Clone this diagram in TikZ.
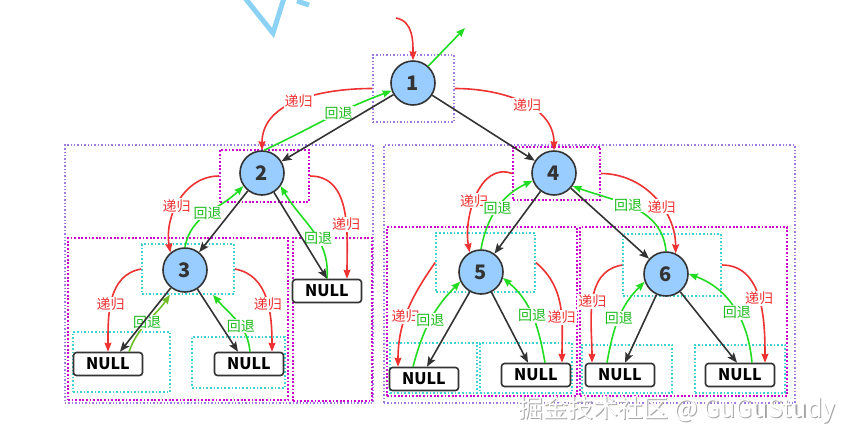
\documentclass[tikz,border=0pt]{standalone}
\usepackage{fontspec}
\setmainfont{Noto Sans CJK SC}
\usetikzlibrary{arrows.meta}

\definecolor{nodeblue}{RGB}{153,204,255}
\definecolor{linegray}{RGB}{51,51,51}
\definecolor{recred}{RGB}{238,50,50}
\definecolor{backgreen}{RGB}{34,220,34}
\definecolor{olivegreen}{RGB}{110,190,40}
\definecolor{boxpurple}{RGB}{160,120,225}
\definecolor{boxmagenta}{RGB}{204,0,204}
\definecolor{boxcyan}{RGB}{60,210,210}
\definecolor{markblue}{RGB}{140,210,245}

\tikzstyle{vertex}=[circle,draw=linegray,fill=nodeblue,line width=1.6pt,minimum size=44pt,inner sep=0pt,text=linegray,font=\bfseries\fontsize{20}{20}\selectfont]
\tikzstyle{nullbox}=[rectangle,rounded corners=3pt,draw=linegray,fill=white,line width=1.6pt,minimum width=69pt,minimum height=23pt,inner sep=0pt,font=\bfseries\fontsize{16}{16}\selectfont]
\tikzstyle{pbox}=[rectangle,draw=boxpurple,line width=1.4pt,dash pattern=on 1.4pt off 2pt,inner sep=0pt]
\tikzstyle{mbox}=[rectangle,draw=boxmagenta,line width=1.8pt,dash pattern=on 1.8pt off 1.8pt,inner sep=0pt]
\tikzstyle{cbox}=[rectangle,draw=boxcyan,line width=1.6pt,dash pattern=on 1.6pt off 2pt,inner sep=0pt]
\tikzstyle{arrowdecorate}=[draw=linegray,line width=1.6pt,-{Stealth[length=10pt,width=8pt,inset=2pt]}]
\tikzstyle{recurse}=[draw=recred,line width=1.6pt,-{Stealth[length=9pt,width=7pt,inset=1pt]}]
\tikzstyle{backtrack}=[draw=backgreen,line width=1.6pt,-{Stealth[length=9pt,width=7pt,inset=1pt]}]
\tikzstyle{redlabel}=[fill=white,inner sep=1pt,text=recred,font=\fontsize{14}{14}\selectfont]
\tikzstyle{greenlabel}=[fill=white,inner sep=1pt,text=backgreen!85!black,font=\fontsize{14}{14}\selectfont]

\begin{document}
\begin{tikzpicture}[x=1pt,y=1pt]
    \useasboundingbox (0,0) rectangle (855,-440);

    % watermark stroke at the top
    \draw[markblue,line width=5pt,line join=miter] (245,2) -- (273,-33) -- (284,2);
    \draw[markblue,line width=5pt] (297,-1) -- (309,-5);

    %dotted frames
    \foreach \boxname/\x/\y/\w/\h/\kind in {
      b1/413.5/88.5/81/67/pbox, bl/219/274/308/258/pbox, br/589.5/274/411/258/pbox,
      b2/264.5/176/89/52/mbox, b4/556.5/173.5/87/53/mbox,
      s3/178/319/220/162/mbox, sn2/332.5/319.5/79/163/mbox,
      s5/482/311.5/190/169/mbox, s6/683.5/311.5/207/169/mbox,
      c3/188/269/92/50/cbox, c3l/121.5/362/97/60/cbox, c3r/238.5/362.5/93/51/cbox,
      c5/485.5/262.5/99/59/cbox, c6/672/265/98/62/cbox,
      c5l/433.5/368/87/50/cbox, c5r/526/368/92/50/cbox,
      c6l/627/369/90/48/cbox, c6r/740/369/90/48/cbox}
    {
      \node[\kind, minimum width=\w pt, minimum height=\h pt] (\boxname) at (\x,-\y) {};
    }

    \foreach \nodename/\value/\x/\y in {
      n1/1/413/83, n2/2/262/173, n4/4/554/173,
      n3/3/185/270, n5/5/481/272, n6/6/666/274}
    {
      \node[vertex] (\nodename) at (\x,-\y) {\value};
    }

    \foreach \nodename/\x/\y in {
      nul2/327/291, nul3l/108/364, nul3r/249/364,
      nul5l/424/379, nul5r/536/375, nul6l/620/375, nul6r/740/375}
    {
      \node[nullbox] (\nodename) at (\x,-\y) {NULL};
    }

    \coordinate (in1) at (396,-18);
    \coordinate (out1) at (465,-28);
    \draw[recurse] (in1) to[out=-10,in=90] (n1.north);
    \draw[backtrack] (n1.48) -- (out1);

    %recursion arcs
    \path
    \foreach \startnode/\startanchor/\endnode/\endanchor/\dx/\outangle/\inangle/\where in {
      b1/west/n2/north/0/180/90/0.5, b1/east/n4/north/0/0/90/0.55,
      b2/west/n3/130/0/180/100/0.55, b2/east/nul2/north/20/0/90/0.6,
      b4/west/n5/120/0/160/100/0.55, b4/east/n6/65/0/0/90/0.6,
      c3/west/nul3l/north/0/190/90/0.55, c3/east/nul3r/north/23/-10/90/0.55,
      c5/west/nul5l/north/-26/235/90/0.55, c5/east/nul5r/north/26/-40/90/0.6,
      c6/west/nul6l/north/-28/190/90/0.5, c6/east/nul6r/north/25/0/90/0.5}
    {
      (\startnode.\startanchor) edge[recurse, out=\outangle, in=\inangle]
        node[pos=\where, redlabel] {递归} ([xshift=\dx pt]\endnode.\endanchor)
    };

    %backtrack arcs
    \path
    \foreach \startnode/\startanchor/\sdx/\endnode/\endanchor/\edx/\outangle/\inangle/\where in {
      n2/85/0/n1/200/0/25/200/0.6, n3/north/0/n2/215/0/80/225/0.5,
      nul2/north/0/n2/-35/0/85/-60/0.4, n5/north/0/n4/200/0/80/205/0.5,
      n6/north/0/n4/-35/0/95/-20/0.55,
      nul3r/north/1/c3/south/25/95/-50/0.4,
      nul5l/north/-11/n5/205/0/75/225/0.5, nul5r/north/9/n5/-15/0/100/-40/0.5,
      nul6l/north/-13/n6/200/0/80/225/0.5, nul6r/north/12/n6/0/0/95/-20/0.45}
    {
      ([xshift=\sdx pt]\startnode.\startanchor) edge[backtrack, out=\outangle, in=\inangle]
        node[pos=\where, greenlabel] {回退} ([xshift=\edx pt]\endnode.\endanchor)
    };
    \draw[backtrack, draw=olivegreen] ([xshift=21pt]nul3l.north) to[out=70,in=235]
      node[pos=0.5, greenlabel] {回退} ([xshift=-18pt]c3.south);

    %edges or lines
    \path
    \foreach \startnode/\endnode in {n1/n2, n1/n4, n2/n3, n4/n5, n4/n6}
    {
      (\startnode) edge[arrowdecorate] (\endnode)
    };
    \path
    \foreach \startnode/\endnode/\dx in {
      n2/nul2/0, n3/nul3l/12, n3/nul3r/-11, n5/nul5l/3, n5/nul5r/-8, n6/nul6l/5, n6/nul6r/-3}
    {
      (\startnode) edge[arrowdecorate] ([xshift=\dx pt]\endnode.north)
    };

    \node[text=gray!70, font=\fontsize{25}{25}\selectfont] (wmshadow) at (678.2,-411.2) {掘金技术社区 @ GuGuStudy};
    \node[text=white, font=\fontsize{25}{25}\selectfont] (wm) at (677,-410) {掘金技术社区 @ GuGuStudy};
\end{tikzpicture}
\end{document}
